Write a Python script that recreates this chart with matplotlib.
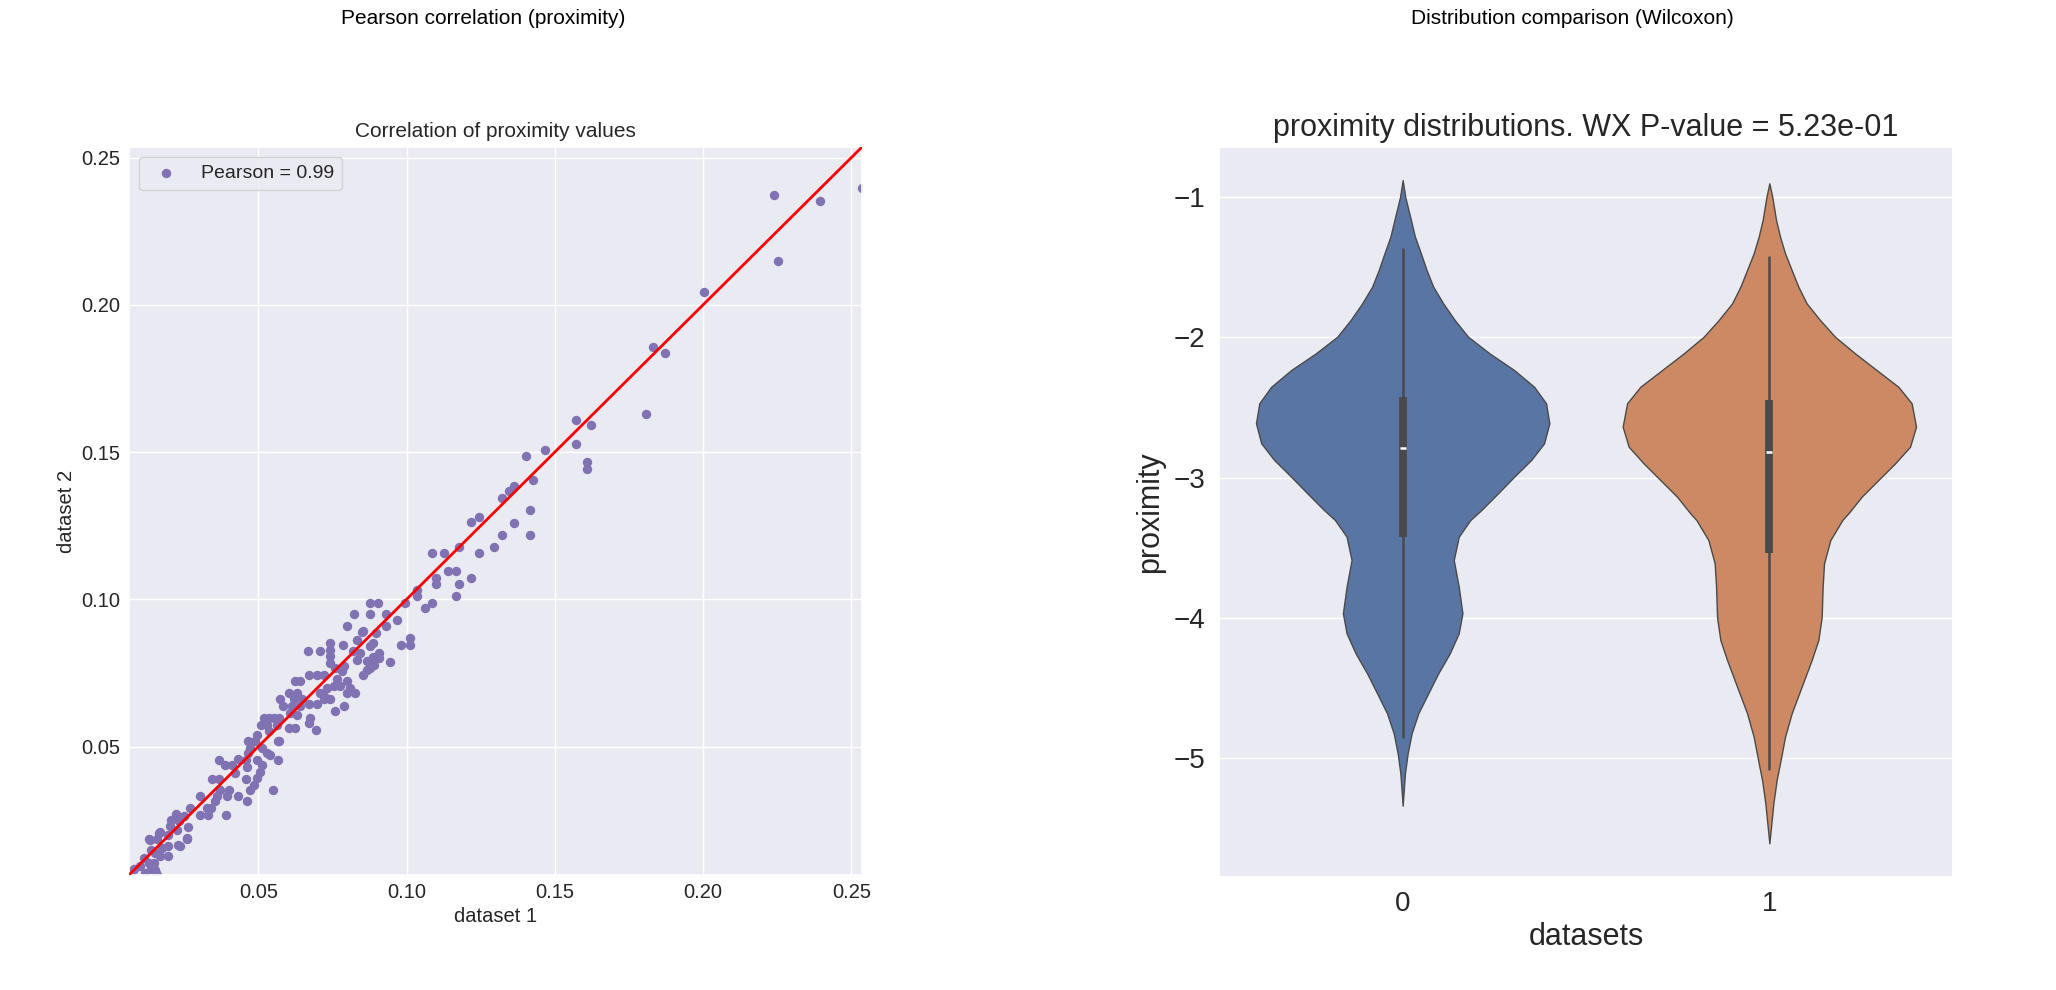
import matplotlib
matplotlib.use('Agg')
import matplotlib.pyplot as plt
import seaborn as sns

sns.set_theme(style='darkgrid')
plt.rcParams['font.family'] = ['Liberation Sans', 'DejaVu Sans']

# proximity values (dataset 1 -> x, dataset 2 -> y)
x1 = [0.2239, 0.2394, 0.2535, 0.2252, 0.2002, 0.1832, 0.1871, 0.1806, 0.1571, 0.1623,
      0.1571, 0.1610, 0.1610, 0.1402, 0.1467, 0.1427, 0.1362, 0.1347, 0.1322, 0.1415,
      0.1362, 0.1415, 0.1323, 0.1294, 0.1219, 0.1245, 0.1178, 0.1245, 0.1087, 0.1128,
      0.1139, 0.1166, 0.1099, 0.1099, 0.1178, 0.1219, 0.1166, 0.1035, 0.1035, 0.1061,
      0.1087, 0.0996, 0.0878, 0.0904, 0.0824, 0.0878, 0.0932, 0.0799, 0.0968, 0.0932,
      0.0852, 0.0850, 0.0898, 0.0833, 0.0887, 0.0980, 0.1010, 0.1010, 0.0741, 0.0786,
      0.0669, 0.0707, 0.0743, 0.0743, 0.0743, 0.0820, 0.0844, 0.0878, 0.0906, 0.0887,
      0.0906, 0.0943, 0.0833, 0.0867, 0.0889, 0.0876, 0.0788, 0.0670, 0.0698, 0.0720,
      0.0760, 0.0782, 0.0867, 0.0853, 0.0625, 0.0642, 0.0766, 0.0799, 0.0754, 0.0777,
      0.0732, 0.0810, 0.0799, 0.0827, 0.0707, 0.0602, 0.0631, 0.0574, 0.0619, 0.0647,
      0.0720, 0.0720, 0.0743, 0.0585, 0.0614, 0.0642, 0.0670, 0.0698, 0.0788, 0.0760,
      0.0608, 0.0631, 0.0518, 0.0535, 0.0552, 0.0569, 0.0675, 0.0509, 0.0529, 0.0563,
      0.0602, 0.0625, 0.0670, 0.0696, 0.0535, 0.0496, 0.0467, 0.0490, 0.0565, 0.0473,
      0.0512, 0.0529, 0.0467, 0.0496, 0.0538, 0.0565, 0.0430, 0.0458, 0.0366, 0.0389,
      0.0411, 0.0512, 0.0462, 0.0422, 0.0507, 0.0496, 0.0344, 0.0366, 0.0458, 0.0484,
      0.0473, 0.0550, 0.0372, 0.0400, 0.0361, 0.0355, 0.0302, 0.0394, 0.0430, 0.0462,
      0.0327, 0.0340, 0.0392, 0.0271, 0.0302, 0.0329, 0.0223, 0.0248, 0.0206, 0.0233,
      0.0263, 0.0203, 0.0226, 0.0167, 0.0197, 0.0130, 0.0160, 0.0261, 0.0228, 0.0237,
      0.0197, 0.0175, 0.0138, 0.0152, 0.0197, 0.0169, 0.0113, 0.0130, 0.0147, 0.0102,
      0.0080, 0.0138, 0.0156, 0.0158, 0.0074, 0.0118, 0.0135, 0.0164, 0.0259, 0.0152,
      0.0569]
y1 = [0.2374, 0.2354, 0.2396, 0.2148, 0.2044, 0.1858, 0.1838, 0.1631, 0.1610, 0.1591,
      0.1529, 0.1467, 0.1444, 0.1488, 0.1507, 0.1404, 0.1386, 0.1367, 0.1344, 0.1302,
      0.1259, 0.1218, 0.1218, 0.1177, 0.1261, 0.1280, 0.1177, 0.1157, 0.1157, 0.1157,
      0.1095, 0.1095, 0.1074, 0.1052, 0.1052, 0.1074, 0.1013, 0.1033, 0.1013, 0.0970,
      0.0989, 0.0989, 0.0989, 0.0989, 0.0950, 0.0950, 0.0950, 0.0911, 0.0931, 0.0911,
      0.0891, 0.0889, 0.0886, 0.0863, 0.0852, 0.0845, 0.0868, 0.0845, 0.0852, 0.0846,
      0.0826, 0.0826, 0.0829, 0.0807, 0.0784, 0.0824, 0.0818, 0.0841, 0.0818, 0.0805,
      0.0801, 0.0786, 0.0795, 0.0790, 0.0778, 0.0767, 0.0773, 0.0744, 0.0744, 0.0744,
      0.0767, 0.0756, 0.0761, 0.0744, 0.0722, 0.0722, 0.0728, 0.0722, 0.0705, 0.0705,
      0.0699, 0.0699, 0.0682, 0.0682, 0.0682, 0.0682, 0.0682, 0.0660, 0.0660, 0.0660,
      0.0671, 0.0660, 0.0660, 0.0637, 0.0637, 0.0637, 0.0643, 0.0643, 0.0639, 0.0620,
      0.0614, 0.0609, 0.0597, 0.0597, 0.0597, 0.0597, 0.0597, 0.0575, 0.0575, 0.0575,
      0.0563, 0.0563, 0.0580, 0.0558, 0.0552, 0.0541, 0.0518, 0.0518, 0.0518, 0.0496,
      0.0496, 0.0479, 0.0479, 0.0456, 0.0473, 0.0453, 0.0458, 0.0456, 0.0456, 0.0437,
      0.0437, 0.0437, 0.0431, 0.0411, 0.0413, 0.0394, 0.0391, 0.0391, 0.0391, 0.0371,
      0.0352, 0.0352, 0.0352, 0.0352, 0.0331, 0.0314, 0.0331, 0.0331, 0.0331, 0.0314,
      0.0292, 0.0292, 0.0269, 0.0292, 0.0269, 0.0269, 0.0272, 0.0263, 0.0252, 0.0246,
      0.0227, 0.0229, 0.0218, 0.0209, 0.0201, 0.0187, 0.0187, 0.0187, 0.0167, 0.0161,
      0.0161, 0.0156, 0.0150, 0.0139, 0.0127, 0.0127, 0.0122, 0.0105, 0.0105, 0.0094,
      0.0085, 0.0085, 0.0071, 0.0065, 0.0077, 0.0071, 0.0184, 0.0207, 0.0190, 0.0082,
      0.0518]
pearson_label = 'Pearson = 0.99'
lims = [0.0064, 0.2536]

# violin outlines: proximity level and relative half-width
v0_levels = [-0.877, -1.000, -1.162, -1.281, -1.400, -1.519, -1.638, -1.757, -1.876, -1.995,
             -2.114, -2.233, -2.352, -2.470, -2.613, -2.756, -2.875, -2.994, -3.113, -3.232,
             -3.303, -3.374, -3.423, -3.589, -3.779, -3.969, -4.112, -4.255, -4.398, -4.540,
             -4.683, -4.826, -4.969, -5.111, -5.342]
v0_width = [0.0, 2.7, 8.3, 12.3, 18.3, 24.0, 30.7, 40.7, 52.3, 65.7,
            87.3, 112.0, 132.0, 144.0, 147.3, 142.0, 129.0, 112.0, 95.7, 79.0,
            68.0, 61.0, 56.3, 51.3, 56.3, 60.0, 56.3, 47.3, 35.7, 25.7,
            15.7, 9.0, 5.0, 2.3, 0.0]
v1_levels = [-0.900, -1.000, -1.162, -1.281, -1.400, -1.519, -1.638, -1.757, -1.876, -1.995,
             -2.114, -2.233, -2.352, -2.470, -2.637, -2.780, -2.899, -3.018, -3.137, -3.256,
             -3.303, -3.375, -3.446, -3.612, -3.779, -3.998, -4.160, -4.303, -4.493, -4.683,
             -4.850, -5.000, -5.159, -5.326, -5.611]
v1_width = [0.0, 3.0, 6.7, 10.7, 15.7, 22.3, 29.0, 37.3, 50.7, 65.7,
            85.7, 107.3, 129.0, 142.3, 146.7, 140.7, 125.7, 109.0, 92.3, 79.0,
            73.0, 67.0, 61.0, 54.7, 53.3, 52.3, 49.0, 42.3, 32.3, 22.3,
            15.7, 11.7, 7.3, 4.0, 0.0]
medians = [-2.787, -2.816]
q1 = [-3.423, -3.541]
q3 = [-2.423, -2.447]
whisk_lo = [-4.850, -5.083]
whisk_hi = [-1.371, -1.428]
violin_colors = ['#5875a4', '#cc8963']
line_gray = '#4a4a4a'

fig = plt.figure(figsize=(20.56, 9.9), dpi=100)
fig.text(0.235, 1 - 19 / 990, 'Pearson correlation (proximity)', ha='center', va='center',
         fontsize=15, color='black')
fig.text(0.765, 1 - 19 / 990, 'Distribution comparison (Wilcoxon)', ha='center', va='center',
         fontsize=15, color='black')

# left: scatter
ax1 = fig.add_axes([0.06274, 0.11616, 0.35652, 0.73535])
ax1.scatter(x1, y1, s=46, color='#8172b3', linewidths=0, label=pearson_label, zorder=2)
ax1.plot(lims, lims, color='red', lw=2, zorder=3)
ax1.set_xlim(lims)
ax1.set_ylim(lims)
ax1.set_xticks([0.05, 0.10, 0.15, 0.20, 0.25])
ax1.set_yticks([0.05, 0.10, 0.15, 0.20, 0.25])
ax1.set_xticklabels(['0.05', '0.10', '0.15', '0.20', '0.25'])
ax1.set_yticklabels(['0.05', '0.10', '0.15', '0.20', '0.25'])
ax1.tick_params(labelsize=14.5, length=0, pad=6)
ax1.set_xlabel('dataset 1', fontsize=14.5, labelpad=3)
ax1.set_ylabel('dataset 2', fontsize=14.5, labelpad=4)
ax1.set_title('Correlation of proximity values', fontsize=15, pad=7)
ax1.legend(loc='upper left', fontsize=14, scatterpoints=1)

# right: violins
ax2 = fig.add_axes([0.59305, 0.11434, 0.35671, 0.73727])
vpstats = []
for lv, wd, md in [(v0_levels, v0_width, medians[0]), (v1_levels, v1_width, medians[1])]:
    vpstats.append({'coords': lv, 'vals': wd, 'mean': md, 'median': md,
                    'min': min(lv), 'max': max(lv)})
parts = ax2.violin(vpstats, positions=[0, 1], widths=0.8,
                   showmeans=False, showextrema=False, showmedians=False)
for body, c in zip(parts['bodies'], violin_colors):
    body.set_facecolor(c)
    body.set_edgecolor(line_gray)
    body.set_alpha(1)
    body.set_linewidth(1.0)
    body.set_joinstyle('round')
    body.set_zorder(2)
for i in range(2):
    ax2.plot([i, i], [whisk_lo[i], whisk_hi[i]], color=line_gray, lw=1.8, zorder=3)
    ax2.plot([i, i], [q1[i], q3[i]], color=line_gray, lw=5.6, zorder=3,
             solid_capstyle='butt')
    ax2.plot([i], [medians[i]], marker='_', color='white', markersize=5, mew=1.8, zorder=4)
ax2.set_xlim(-0.5, 1.5)
ax2.set_ylim(-5.85, -0.64)
ax2.set_xticks([0, 1])
ax2.set_xticklabels(['0', '1'])
ax2.set_yticks([-5, -4, -3, -2, -1])
ax2.grid(False, axis='x')
ax2.tick_params(labelsize=20, length=0, pad=10)
ax2.set_xlabel('datasets', fontsize=22, labelpad=4)
ax2.set_ylabel('proximity', fontsize=22, labelpad=6)
ax2.set_title('proximity distributions. WX P-value = 5.23e-01', fontsize=22, pad=8)

plt.savefig('out.png', dpi=100)
